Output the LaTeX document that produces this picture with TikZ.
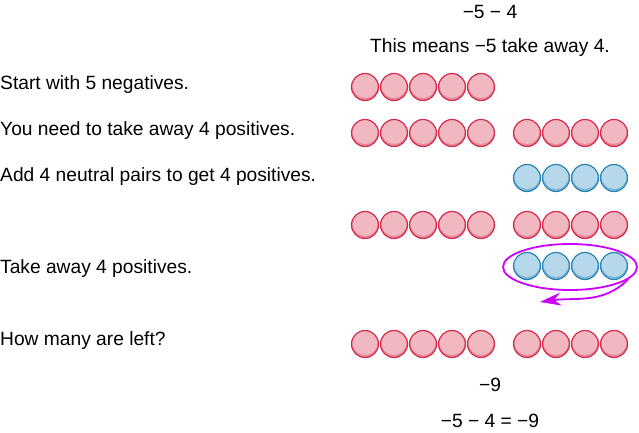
\documentclass[tikz,border=0pt]{standalone}
\usepackage{fontspec}
\setmainfont{Liberation Sans}
\usetikzlibrary{arrows.meta, positioning, shapes.geometric}
\definecolor{negred}{HTML}{D6294B}
\definecolor{negpink}{HTML}{F2B8C2}
\definecolor{negshade}{HTML}{E48A9C}
\definecolor{posblue}{HTML}{2A86B8}
\definecolor{poslight}{HTML}{B7D7EA}
\definecolor{posshade}{HTML}{7FB5D6}
\definecolor{ringmag}{HTML}{CC00FF}

\tikzset{
  counter/.style={circle, inner sep=0pt, minimum size=27pt, line width=1.2pt},
  negtile/.style={counter, draw=negred, fill=negpink,
    path picture={\fill[negshade] (path picture bounding box.center) circle (14pt);
      \fill[negpink] ([yshift=1.6pt]path picture bounding box.center) circle (12.6pt);}},
  postile/.style={counter, draw=posblue, fill=poslight,
    path picture={\fill[posshade] (path picture bounding box.center) circle (14pt);
      \fill[poslight] ([yshift=1.6pt]path picture bounding box.center) circle (12.6pt);}},
  lbl/.style={anchor=west, inner sep=0pt},
  txt/.style={inner sep=0pt}
}

\begin{document}
\begin{tikzpicture}[x=1pt, y=1pt, font=\fontsize{19.2}{23}\selectfont]
  \useasboundingbox (0,0) rectangle (639,433);
  % Heading
  \node[txt] (expr) at (490,421) {−5 − 4};
  \node[txt] (means) at (490,385) {This means −5 take away 4.};
  % Steps on the left
  \node[lbl] (start) at (0,348) {Start with 5 negatives.};
  \node[lbl] (need) at (0,302) {You need to take away 4 positives.};
  \node[lbl] (add) at (0,256) {Add 4 neutral pairs to get 4 positives.};
  \node[lbl] (take) at (0,164) {Take away 4 positives.};
  \node[lbl] (left) at (0,92) {How many are left?};
  % Counters
  \foreach \i in {1,...,5} {
    \node[negtile] (a\i) at ({336+29*\i},346) {};
    \node[negtile] (b\i) at ({336+29*\i},300) {};
    \node[negtile] (d\i) at ({336+29*\i},208) {};
    \node[negtile] (f\i) at ({336+29*\i},89) {};
  }
  \foreach \i in {1,...,4} {
    \node[negtile] (bb\i) at ({498+29*\i},300) {};
    \node[postile] (c\i) at ({498+29*\i},255) {};
    \node[negtile] (dd\i) at ({498+29*\i},208) {};
    \node[postile] (e\i) at ({498+29*\i},167) {};
    \node[negtile] (ff\i) at ({498+29*\i},89) {};
  }
  % Take away loop
  \node[ellipse, draw=ringmag, line width=1.8pt, minimum width=134pt,
        minimum height=46pt] (ell) at (570,166) {};
  \coordinate (tip) at (540,131);
  \draw[ringmag, line width=1.8pt, -{Stealth[length=21pt, width=13pt]}]
    (ell.-12) to[out=-135, in=8] (tip);
  % Result
  \node[txt] (res) at (490,48) {−9};
  \node[txt] (eq) at (490,12) {−5 − 4 = −9};
\end{tikzpicture}
\end{document}
